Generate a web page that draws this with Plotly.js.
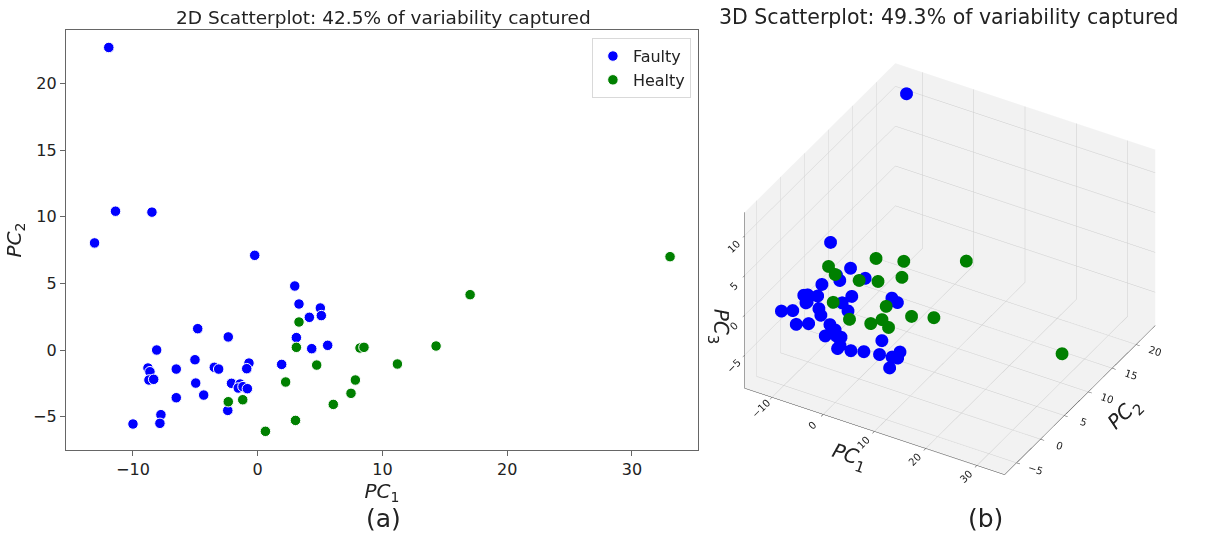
<!DOCTYPE html>
<html>
<head>
<meta charset="utf-8">
<script src="https://cdn.plot.ly/plotly-3.0.1.min.js"></script>
<style>html,body{margin:0;padding:0;background:#fff;}#chart{width:1210px;height:537px;}</style>
</head>
<body>
<div id="chart"></div>
<script>
// Faulty (blue) principal-component scores
const faultyPC1 = [-11.94,-11.4,-8.48,-13.08,-0.24,2.97,3.31,5.02,4.14,5.1,-4.81,-2.36,3.1,-8.1,4.33,5.61,-5.03,-0.7,-0.88,1.92,-8.8,-8.64,-6.53,-3.48,-3.13,-8.72,-8.34,-4.97,-2.1,-1.41,-1.56,-1.18,-0.83,-6.53,-4.33,-2.4,-7.76,-7.84,-10.0];
const faultyPC2 = [22.69,10.41,10.34,8.03,7.1,4.8,3.45,3.15,2.45,2.58,1.6,0.98,0.93,0.0,0.1,0.35,-0.73,-0.98,-1.4,-1.08,-1.35,-1.63,-1.43,-1.3,-1.43,-2.25,-2.2,-2.48,-2.5,-2.55,-2.85,-2.75,-2.9,-3.58,-3.38,-4.53,-4.85,-5.5,-5.55];
const faultyPC3 = [10.6,-3.9,-4.5,0.4,-3.3,-1.8,-0.6,-6.6,-7.0,-7.0,-1.6,0.1,-6.0,-0.5,-3.5,-6.8,-3.0,-5.2,0.0,-4.7,0.3,-0.4,-0.9,-3.0,-3.6,0.8,-0.1,3.1,4.9,4.4,-4.0,-3.6,-2.4,-1.5,-0.1,-1.6,-1.1,1.0,0.5];
// Healthy (green) principal-component scores
const healthyPC1 = [3.31,3.1,8.2,8.52,4.73,2.24,7.83,7.48,6.06,-2.36,-1.2,3.03,0.62,11.2,14.3,17.03,33.06];
const healthyPC2 = [2.1,0.2,0.15,0.2,-1.13,-2.4,-2.25,-3.25,-4.08,-3.88,-3.73,-5.28,-6.1,-1.05,0.3,4.15,7.0];
const healthyPC3 = [-0.6,6.5,5.25,7.3,4.75,5.1,0.3,1.8,1.5,6.75,5.9,2.1,4.2,1.7,1.4,6.8,-3.1];

const seriesNames = ['Faulty', 'Healty'];
const titles = ['2D Scatterplot: 42.5% of variability captured', '3D Scatterplot: 49.3% of variability captured'];
const panelLabels = ['(a)', '(b)'];
const xTicks2D = [-10, 0, 10, 20, 30];
const yTicks2D = [-5, 0, 5, 10, 15, 20];
const zTicks3D = [-5, 0, 5, 10];

const FONT = 'DejaVu Sans, Liberation Sans, sans-serif';
const BLUE = '#0000ff', GREEN = '#008000';
const minus = v => v < 0 ? '\u2212' + Math.abs(v) : String(v);

const traces = [
  {type:'scatter', mode:'markers', name:seriesNames[0], x:faultyPC1, y:faultyPC2,
   marker:{color:BLUE, size:10.5, line:{color:'#ffffff', width:1}}, xaxis:'x', yaxis:'y'},
  {type:'scatter', mode:'markers', name:seriesNames[1], x:healthyPC1, y:healthyPC2,
   marker:{color:GREEN, size:10.5, line:{color:'#ffffff', width:1}}, xaxis:'x', yaxis:'y'},
  {type:'scatter3d', mode:'markers', name:seriesNames[0], x:faultyPC1, y:faultyPC2, z:faultyPC3,
   marker:{color:BLUE, size:7.5}, showlegend:false, scene:'scene'},
  {type:'scatter3d', mode:'markers', name:seriesNames[1], x:healthyPC1, y:healthyPC2, z:healthyPC3,
   marker:{color:GREEN, size:7.5}, showlegend:false, scene:'scene'}
];

const ax3d = (title, range, tickvals) => ({
  title:{text:title, font:{size:20, family:FONT, color:'#222'}},
  range:range, tickvals:tickvals, ticktext:tickvals.map(minus), autorange:false,
  showbackground:true, backgroundcolor:'rgb(242,242,242)',
  gridcolor:'rgb(205,205,205)', gridwidth:1,
  showline:true, linecolor:'#444', linewidth:1,
  zeroline:false, ticks:'outside', ticklen:4, tickcolor:'#444',
  tickfont:{size:11, family:FONT, color:'#222'},
  showspikes:false
});

const layout = {
  width:1210, height:537,
  margin:{l:0, r:0, t:0, b:0},
  paper_bgcolor:'#ffffff', plot_bgcolor:'#ffffff',
  font:{family:FONT, color:'#222'},
  showlegend:true,
  legend:{x:0.571, y:0.929, xanchor:'right', yanchor:'top',
    bgcolor:'rgba(255,255,255,0.9)', bordercolor:'#d9d9d9', borderwidth:1,
    font:{size:16, family:FONT, color:'#222'}},
  xaxis:{domain:[66/1210, 698/1210], range:[-15.37, 35.3], tickvals:xTicks2D,
    ticktext:xTicks2D.map(minus),
    showline:true, mirror:true, linecolor:'#666', linewidth:1.2,
    ticks:'outside', ticklen:5, tickcolor:'#666', showgrid:false, zeroline:false,
    tickfont:{size:16, family:FONT, color:'#222'},
    title:{text:'<i>PC</i><sub>1</sub>', font:{size:20, family:FONT, color:'#222'}, standoff:4},
    anchor:'y'},
  yaxis:{domain:[87/537, 507/537], range:[-7.5, 24.0], tickvals:yTicks2D,
    ticktext:yTicks2D.map(minus),
    showline:true, mirror:true, linecolor:'#666', linewidth:1.2,
    ticks:'outside', ticklen:5, tickcolor:'#666', showgrid:false, zeroline:false,
    tickfont:{size:16, family:FONT, color:'#222'},
    title:{text:'<i>PC</i><sub>2</sub>', font:{size:20, family:FONT, color:'#222'}, standoff:6},
    anchor:'x'},
  scene:{
    domain:{x:[0.585, 0.985], y:[0.07, 0.93]},
    xaxis:ax3d('<i>PC</i><sub>1</sub>', [-15.3, 35.4], xTicks2D),
    yaxis:ax3d('<i>PC</i><sub>2</sub>', [-7.5, 24], yTicks2D),
    zaxis:ax3d('<i>PC</i><sub>3</sub>', [-9.2, 12.9], zTicks3D),
    aspectmode:'manual', aspectratio:{x:1.3, y:1.3, z:0.93},
    camera:{eye:{x:0.60, y:-1.035, z:0.838}, center:{x:0, y:0, z:0}, up:{x:0,y:0,z:1},
      projection:{type:'orthographic'}},
    bgcolor:'#ffffff'
  },
  annotations:[
    {text:titles[0], xref:'paper', yref:'paper', x:383/1210, y:1-17/537, xanchor:'center', yanchor:'middle',
     showarrow:false, font:{size:18.5, family:FONT, color:'#222'}},
    {text:titles[1], xref:'paper', yref:'paper', x:949/1210, y:1-17/537, xanchor:'center', yanchor:'middle',
     showarrow:false, font:{size:20.5, family:FONT, color:'#222'}},
    {text:panelLabels[0], xref:'paper', yref:'paper', x:383/1210, y:1-518/537, xanchor:'center', yanchor:'middle',
     showarrow:false, font:{size:25, family:FONT, color:'#222'}},
    {text:panelLabels[1], xref:'paper', yref:'paper', x:985/1210, y:1-518/537, xanchor:'center', yanchor:'middle',
     showarrow:false, font:{size:25, family:FONT, color:'#222'}}
  ]
};

Plotly.newPlot('chart', traces, layout, {displayModeBar:false});
</script>
</body>
</html>
